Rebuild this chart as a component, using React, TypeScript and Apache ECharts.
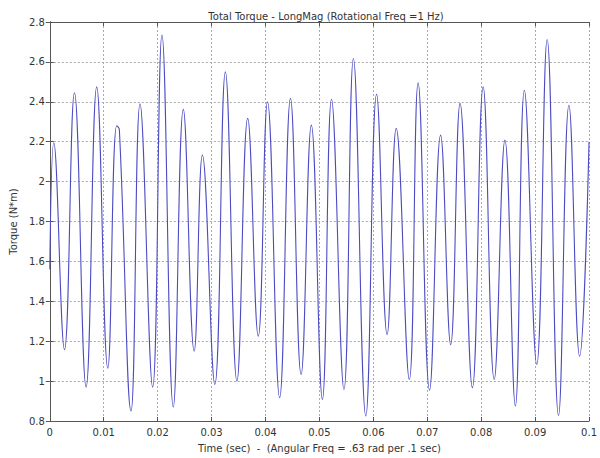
import React, { useEffect, useRef } from "react";
import * as echarts from "echarts";

// Time (sec) of each read-off point (peaks and troughs of the waveform)
const timeSec = [
  0, 0.00074, 0.00272, 0.00457, 0.00673, 0.0087, 0.01075, 0.0124, 0.0129,
  0.01506, 0.01673, 0.01907, 0.0208, 0.0229, 0.02476, 0.02677, 0.0283, 0.0306,
  0.03256, 0.0347, 0.0367, 0.03866, 0.04037, 0.04262, 0.04463, 0.0466, 0.0485,
  0.05055, 0.05224, 0.05455, 0.0563, 0.0586, 0.0606, 0.06255, 0.06424, 0.06667,
  0.0683, 0.07042, 0.07247, 0.07434, 0.07608, 0.07837, 0.08036, 0.08241, 0.0844,
  0.08633, 0.08801, 0.0903, 0.09223, 0.09434, 0.09627, 0.09825, 0.1,
];

// Torque (N*m) at those times
const torque = [
  1.56, 2.195, 1.158, 2.445, 0.97, 2.475, 1.065, 2.28, 2.26,
  0.85, 2.39, 0.97, 2.735, 0.87, 2.362, 1.15, 2.133, 0.983,
  2.55, 1.0, 2.317, 1.225, 2.4, 0.917, 2.417, 1.033, 2.283,
  0.908, 2.413, 0.958, 2.617, 0.825, 2.438, 1.233, 2.267, 1.008,
  2.495, 0.955, 2.233, 1.183, 2.392, 0.967, 2.475, 1.008, 2.208,
  0.875, 2.458, 1.083, 2.712, 0.828, 2.383, 1.125, 2.2,
];

const titleText = "Total Torque - LongMag (Rotational Freq =1 Hz)";
const xName = "Time (sec)  -  (Angular Freq = .63 rad per .1 sec)";
const yName = "Torque (N*m)";

const FONT = "DejaVu Sans";

export default function App() {
  const ref = useRef<HTMLDivElement>(null);
  useEffect(() => {
    if (!ref.current) return;
    const chart = echarts.init(ref.current, undefined, { renderer: "svg" });
    const frame = "#555";
    const gridLine = {
      show: true,
      lineStyle: { color: "#aaa", type: [2, 2] as any, width: 1 },
    };
    const labelStyle = { color: "#333", fontSize: 10, fontFamily: FONT };
    chart.setOption({
      animation: false,
      backgroundColor: "#fff",
      title: {
        text: titleText,
        left: 321,
        top: 6,
        textAlign: "center",
        textStyle: { fontSize: 10, fontWeight: "normal", color: "#333", fontFamily: FONT },
      },
      grid: { left: 46, right: 4, top: 22, bottom: 37, containLabel: false },
      xAxis: [
        {
          type: "value",
          min: 0,
          max: 0.1,
          interval: 0.01,
          position: "bottom",
          name: xName,
          nameLocation: "middle",
          nameGap: 22,
          nameTextStyle: { ...labelStyle },
          axisLine: { show: true, lineStyle: { color: frame, width: 1 } },
          axisTick: { show: true, inside: true, length: 4, lineStyle: { color: frame } },
          axisLabel: { ...labelStyle, margin: 6 },
          splitLine: gridLine,
        },
        {
          type: "value",
          min: 0,
          max: 0.1,
          interval: 0.01,
          position: "top",
          axisLine: { show: true, lineStyle: { color: frame, width: 1 } },
          axisTick: { show: true, inside: true, length: 4, lineStyle: { color: frame } },
          axisLabel: { show: false },
          splitLine: { show: false },
        },
      ],
      yAxis: [
        {
          type: "value",
          min: 0.8,
          max: 2.8,
          interval: 0.2,
          position: "left",
          name: yName,
          nameLocation: "middle",
          nameGap: 27,
          nameTextStyle: { ...labelStyle },
          axisLine: { show: true, lineStyle: { color: frame, width: 1 } },
          axisTick: { show: true, inside: true, length: 4, lineStyle: { color: frame } },
          axisLabel: { ...labelStyle, margin: 5 },
          splitLine: gridLine,
        },
        {
          type: "value",
          min: 0.8,
          max: 2.8,
          interval: 0.2,
          position: "right",
          axisLine: { show: true, lineStyle: { color: frame, width: 1 } },
          axisTick: { show: true, inside: true, length: 4, lineStyle: { color: frame } },
          axisLabel: { show: false },
          splitLine: { show: false },
        },
      ],
      series: [
        {
          type: "line",
          xAxisIndex: 0,
          yAxisIndex: 0,
          data: timeSec.map((t, i) => [t, torque[i]]),
          smooth: 0.45,
          showSymbol: false,
          symbol: "none",
          lineStyle: { color: "#4b4bc3", width: 1.1 },
          clip: true,
        },
      ],
    });
    return () => chart.dispose();
  }, []);
  return (
    <div
      ref={ref}
      style={{ position: "absolute", left: 0, top: 0, width: 600, height: 458 }}
    />
  );
}
